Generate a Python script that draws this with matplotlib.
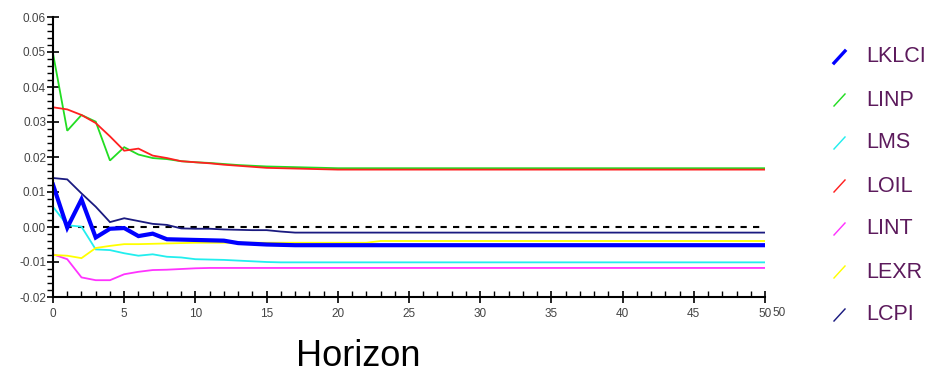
import matplotlib
matplotlib.use("Agg")
import matplotlib.pyplot as plt
from matplotlib.lines import Line2D
from matplotlib.ticker import MultipleLocator, FormatStrFormatter

plt.rcParams['font.family'] = ['Liberation Sans', 'DejaVu Sans']

# --- impulse response values by horizon ---
horizon = list(range(51))

lklci = [0.0121, -0.0002, 0.0079, -0.0030, -0.0005, -0.0003, -0.0026, -0.0019, -0.0035, -0.0036,
         -0.0037, -0.0038, -0.0039, -0.0046, -0.0048, -0.0050, -0.0051, -0.0052, -0.0052, -0.0052,
         -0.0052, -0.0052, -0.0052, -0.0052, -0.0052, -0.0052, -0.0052, -0.0052, -0.0052, -0.0052,
         -0.0052, -0.0052, -0.0052, -0.0052, -0.0052, -0.0052, -0.0052, -0.0052, -0.0052, -0.0052,
         -0.0052, -0.0052, -0.0052, -0.0052, -0.0052, -0.0052, -0.0052, -0.0052, -0.0052, -0.0052,
         -0.0052]
linp = [0.0496, 0.0275, 0.0320, 0.0301, 0.0190, 0.0228, 0.0207, 0.0197, 0.0194, 0.0188,
        0.0185, 0.0183, 0.0180, 0.0177, 0.0175, 0.0173, 0.0172, 0.0171, 0.0170, 0.0169,
        0.0168, 0.0168, 0.0168, 0.0168, 0.0168, 0.0168, 0.0168, 0.0168, 0.0168, 0.0168,
        0.0168, 0.0168, 0.0168, 0.0168, 0.0168, 0.0168, 0.0168, 0.0168, 0.0168, 0.0168,
        0.0168, 0.0168, 0.0168, 0.0168, 0.0168, 0.0168, 0.0168, 0.0168, 0.0168, 0.0168,
        0.0168]
lms = [0.0058, 0.0005, 0.0001, -0.0064, -0.0066, -0.0075, -0.0082, -0.0078, -0.0085, -0.0087,
       -0.0092, -0.0093, -0.0094, -0.0096, -0.0098, -0.0100, -0.0101, -0.0101, -0.0101, -0.0101,
       -0.0101, -0.0101, -0.0101, -0.0101, -0.0101, -0.0101, -0.0101, -0.0101, -0.0101, -0.0101,
       -0.0101, -0.0101, -0.0101, -0.0101, -0.0101, -0.0101, -0.0101, -0.0101, -0.0101, -0.0101,
       -0.0101, -0.0101, -0.0101, -0.0101, -0.0101, -0.0101, -0.0101, -0.0101, -0.0101, -0.0101,
       -0.0101]
loil = [0.0342, 0.0336, 0.0320, 0.0297, 0.0259, 0.0218, 0.0224, 0.0204, 0.0197, 0.0188,
        0.0185, 0.0182, 0.0178, 0.0175, 0.0172, 0.0169, 0.0168, 0.0167, 0.0166, 0.0165,
        0.0164, 0.0164, 0.0164, 0.0164, 0.0164, 0.0164, 0.0164, 0.0164, 0.0164, 0.0164,
        0.0164, 0.0164, 0.0164, 0.0164, 0.0164, 0.0164, 0.0164, 0.0164, 0.0164, 0.0164,
        0.0164, 0.0164, 0.0164, 0.0164, 0.0164, 0.0164, 0.0164, 0.0164, 0.0164, 0.0164,
        0.0164]
lint = [-0.0078, -0.0092, -0.0144, -0.0152, -0.0152, -0.0135, -0.0128, -0.0123, -0.0122, -0.0120,
        -0.0118, -0.0117, -0.0117, -0.0117, -0.0117, -0.0117, -0.0117, -0.0117, -0.0117, -0.0117,
        -0.0117, -0.0117, -0.0117, -0.0117, -0.0117, -0.0117, -0.0117, -0.0117, -0.0117, -0.0117,
        -0.0117, -0.0117, -0.0117, -0.0117, -0.0117, -0.0117, -0.0117, -0.0117, -0.0117, -0.0117,
        -0.0117, -0.0117, -0.0117, -0.0117, -0.0117, -0.0117, -0.0117, -0.0117, -0.0117, -0.0117,
        -0.0117]
lexr = [-0.0080, -0.0082, -0.0089, -0.0060, -0.0054, -0.0049, -0.0049, -0.0048, -0.0047, -0.0046,
        -0.0045, -0.0045, -0.0045, -0.0045, -0.0045, -0.0045, -0.0045, -0.0045, -0.0045, -0.0045,
        -0.0045, -0.0045, -0.0045, -0.0040, -0.0040, -0.0040, -0.0040, -0.0040, -0.0040, -0.0040,
        -0.0040, -0.0040, -0.0040, -0.0040, -0.0040, -0.0040, -0.0040, -0.0040, -0.0040, -0.0040,
        -0.0040, -0.0040, -0.0040, -0.0040, -0.0040, -0.0040, -0.0040, -0.0040, -0.0040, -0.0040,
        -0.0040]
lcpi = [0.0140, 0.0136, 0.0096, 0.0058, 0.0014, 0.0025, 0.0017, 0.0009, 0.0006, -0.0004,
        -0.0005, -0.0005, -0.0007, -0.0008, -0.0009, -0.0009, -0.0013, -0.0016, -0.0016, -0.0016,
        -0.0016, -0.0016, -0.0016, -0.0016, -0.0016, -0.0016, -0.0016, -0.0016, -0.0016, -0.0016,
        -0.0016, -0.0016, -0.0016, -0.0016, -0.0016, -0.0016, -0.0016, -0.0016, -0.0016, -0.0016,
        -0.0016, -0.0016, -0.0016, -0.0016, -0.0016, -0.0016, -0.0016, -0.0016, -0.0016, -0.0016,
        -0.0016]

series_names = ['LKLCI', 'LINP', 'LMS', 'LOIL', 'LINT', 'LEXR', 'LCPI']
series_values = [lklci, linp, lms, loil, lint, lexr, lcpi]
series_colors = ['#0000ff', '#22dd22', '#22eeee', '#ff2020', '#ff33ff', '#ffff00', '#1a1a80']
series_widths = [3.0, 1.3, 1.3, 1.3, 1.3, 1.3, 1.3]

fig = plt.figure(figsize=(9.35, 3.77), dpi=100)
ax = fig.add_axes([53 / 935, 1 - 297 / 377, 712 / 935, 280 / 377])

# zero reference line
ax.plot([horizon[0], horizon[-1]], [0, 0], color='black', lw=1.5, ls=(0, (3, 3)), zorder=1)

# thick KLCI line goes on top of the others
order = [1, 2, 3, 4, 5, 6, 0]
for i in order:
    ax.plot(horizon, series_values[i], color=series_colors[i], lw=series_widths[i],
            solid_joinstyle='miter', zorder=2)

ax.set_xlim(0, 50)
ax.set_ylim(-0.02, 0.06)
for side in ['top', 'right']:
    ax.spines[side].set_visible(False)
for side in ['left', 'bottom']:
    ax.spines[side].set_linewidth(1.5)

ax.xaxis.set_major_locator(MultipleLocator(5))
ax.xaxis.set_minor_locator(MultipleLocator(1))
ax.yaxis.set_major_locator(MultipleLocator(0.01))
ax.yaxis.set_minor_locator(MultipleLocator(0.002))
ax.yaxis.set_major_formatter(FormatStrFormatter('%.2f'))

ax.tick_params(axis='x', which='major', direction='inout', length=8, width=1.2,
               labelsize=8.5, labelcolor='#444444', pad=4)
ax.tick_params(axis='x', which='minor', direction='in', length=4, width=1.0)
ax.tick_params(axis='y', which='major', direction='inout', length=8, width=1.2,
               labelsize=8.5, labelcolor='#444444', pad=1)
ax.tick_params(axis='y', which='minor', direction='out', length=4, width=1.0)

# repeated end label just right of the last x tick
fig.text(772 / 935, 1 - 313 / 377, '50', fontsize=8.5, color='#444444', ha='left', va='center')

fig.text(358 / 935, 1 - 356 / 377, 'Horizon', fontsize=26, ha='center', va='center', color='black')

# legend drawn as short diagonal strokes with labels
for k, name in enumerate(series_names):
    yc = 1 - (57 + 43 * k) / 377
    fig.add_artist(Line2D([834 / 935, 845 / 935], [yc - 6 / 377, yc + 6 / 377],
                          color=series_colors[k], lw=series_widths[k] * 0.8))
    fig.text(866 / 935, yc, name, fontsize=15.5, color='#5c1a5c', ha='left', va='center')

fig.savefig('out.png', dpi=100)
